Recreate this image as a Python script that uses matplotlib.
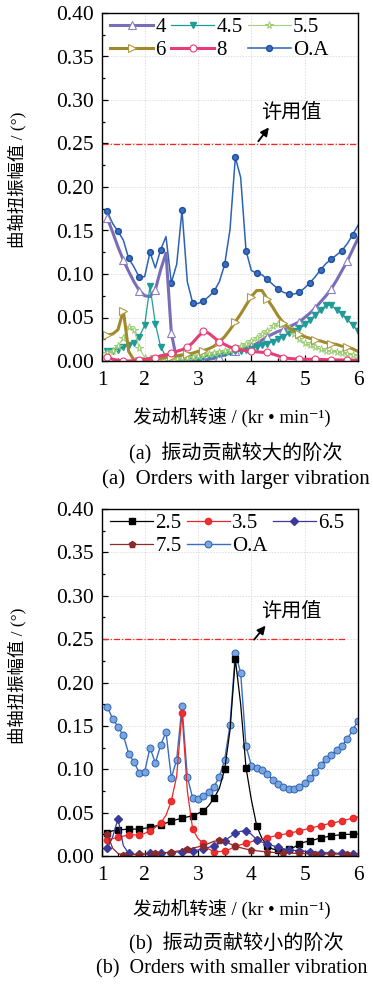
import matplotlib
matplotlib.use("Agg")
import matplotlib.pyplot as plt
from matplotlib.ticker import MultipleLocator, FormatStrFormatter

# ---------------- data ----------------
speed = [1.3, 1.4, 1.5, 1.6, 1.7, 1.8, 1.9, 2.0, 2.1, 2.2,
         2.3, 2.4, 2.5, 2.6, 2.7, 2.8, 2.9, 3.0, 3.1, 3.2,
         3.3, 3.4, 3.5, 3.6, 3.7, 3.8, 3.9, 4.0, 4.1, 4.2,
         4.3, 4.4, 4.5, 4.6, 4.7, 4.8, 4.9, 5.0, 5.1, 5.2,
         5.3, 5.4, 5.5, 5.6, 5.7, 5.8, 5.9, 6.0]

ord4 = [0.164, 0.148, 0.131, 0.116, 0.103, 0.091, 0.081, 0.075, 0.074, 0.082,
        0.105, 0.124, 0.032, 0.002, 0.000, 0.000, 0.000, 0.0005, 0.001, 0.002,
        0.003, 0.005, 0.007, 0.009, 0.011, 0.013, 0.015, 0.017, 0.020, 0.024,
        0.028, 0.031, 0.034, 0.036, 0.039, 0.042, 0.045, 0.050, 0.055, 0.061,
        0.068, 0.075, 0.083, 0.093, 0.104, 0.115, 0.128, 0.141]

ord45 = [0.011, 0.012, 0.013, 0.016, 0.018, 0.021, 0.028, 0.041, 0.086, 0.043,
         0.016, 0.005, 0.002, 0.002, 0.002, 0.003, 0.003, 0.004, 0.005, 0.006,
         0.007, 0.008, 0.009, 0.010, 0.011, 0.012, 0.013, 0.014, 0.016, 0.018,
         0.020, 0.022, 0.025, 0.028, 0.032, 0.035, 0.038, 0.042, 0.047, 0.053,
         0.059, 0.064, 0.064, 0.059, 0.054, 0.048, 0.041, 0.035]

ord55 = [0.009, 0.012, 0.017, 0.027, 0.039, 0.036, 0.015, 0.004, 0.002, 0.002,
         0.002, 0.002, 0.002, 0.002, 0.003, 0.004, 0.005, 0.006, 0.007, 0.008,
         0.009, 0.010, 0.011, 0.013, 0.015, 0.017, 0.020, 0.023, 0.027, 0.031,
         0.035, 0.040, 0.043, 0.042, 0.038, 0.031, 0.025, 0.021, 0.018, 0.016,
         0.014, 0.012, 0.011, 0.010, 0.009, 0.008, 0.007, 0.007]

ord6 = [0.030, 0.031, 0.036, 0.058, 0.011, 0.001, 0.000, 0.000, 0.001, 0.002,
        0.003, 0.004, 0.005, 0.006, 0.007, 0.008, 0.009, 0.011, 0.012, 0.014,
        0.017, 0.022, 0.028, 0.036, 0.045, 0.054, 0.064, 0.074, 0.081, 0.081,
        0.071, 0.062, 0.052, 0.044, 0.038, 0.034, 0.031, 0.028, 0.026, 0.024,
        0.023, 0.021, 0.020, 0.019, 0.017, 0.016, 0.014, 0.011]

ord8 = [0.005, 0.002, 0.001, 0.000, 0.000, 0.0005, 0.001, 0.002, 0.003, 0.004,
        0.006, 0.007, 0.009, 0.011, 0.013, 0.016, 0.021, 0.028, 0.034, 0.032,
        0.027, 0.022, 0.019, 0.016, 0.0145, 0.013, 0.012, 0.011, 0.0105, 0.010,
        0.010, 0.008, 0.006, 0.004, 0.003, 0.0025, 0.0023, 0.002, 0.002, 0.002,
        0.0018, 0.0016, 0.0015, 0.0013, 0.0012, 0.001, 0.001, 0.001]

oa = [0.172, 0.158, 0.149, 0.139, 0.118, 0.108, 0.096, 0.097, 0.125, 0.107,
      0.128, 0.143, 0.090, 0.111, 0.173, 0.091, 0.067, 0.066, 0.069, 0.074,
      0.080, 0.091, 0.111, 0.151, 0.234, 0.211, 0.127, 0.104, 0.101, 0.099,
      0.094, 0.088, 0.083, 0.079, 0.077, 0.077, 0.079, 0.084, 0.090, 0.097,
      0.105, 0.112, 0.117, 0.122, 0.127, 0.135, 0.145, 0.156]

ord25 = [0.027, 0.029, 0.030, 0.0305, 0.031, 0.031, 0.031, 0.032, 0.033, 0.0345,
         0.036, 0.038, 0.040, 0.042, 0.0435, 0.045, 0.0465, 0.049, 0.052, 0.058,
         0.0666, 0.078, 0.100, 0.145, 0.227, 0.175, 0.102, 0.065, 0.035, 0.020,
         0.012, 0.008, 0.007, 0.007, 0.0075, 0.010, 0.014, 0.016, 0.0177, 0.019,
         0.021, 0.022, 0.023, 0.024, 0.0245, 0.025, 0.025, 0.0255]

ord35 = [0.018, 0.020, 0.0216, 0.023, 0.024, 0.0243, 0.0245, 0.026, 0.029, 0.033,
         0.038, 0.047, 0.0635, 0.092, 0.165, 0.075, 0.031, 0.020, 0.0146, 0.008,
         0.005, 0.005, 0.006, 0.008, 0.011, 0.013, 0.0146, 0.0165, 0.0185, 0.020,
         0.021, 0.0225, 0.024, 0.025, 0.026, 0.0275, 0.029, 0.0305, 0.032, 0.0335,
         0.035, 0.0365, 0.0377, 0.039, 0.0407, 0.042, 0.044, 0.045]

ord65 = [0.009, 0.022, 0.043, 0.012, 0.003, 0.002, 0.002, 0.0025, 0.003, 0.003,
         0.0035, 0.004, 0.004, 0.0045, 0.005, 0.0055, 0.006, 0.007, 0.008, 0.010,
         0.012, 0.0145, 0.0177, 0.022, 0.026, 0.0285, 0.029, 0.025, 0.019, 0.016,
         0.0138, 0.012, 0.010, 0.0085, 0.007, 0.0065, 0.006, 0.0055, 0.005, 0.0045,
         0.004, 0.0038, 0.0035, 0.0032, 0.003, 0.0028, 0.0025, 0.0025]

ord75 = [0.025, 0.009, 0.003, 0.001, 0.0012, 0.0015, 0.002, 0.0022, 0.0025, 0.003,
         0.0035, 0.004, 0.0045, 0.0055, 0.0065, 0.0075, 0.009, 0.0105, 0.012, 0.0145,
         0.017, 0.018, 0.017, 0.014, 0.0115, 0.0095, 0.008, 0.0068, 0.006, 0.0053,
         0.0047, 0.0042, 0.0038, 0.0035, 0.0033, 0.0031, 0.003, 0.0028, 0.0027, 0.0026,
         0.0025, 0.0024, 0.0023, 0.0022, 0.0021, 0.002, 0.002, 0.002]

allowable = 0.25
xtick_pos = [1.2, 2, 3, 4, 5, 6]
xtick_labels = ["1", "2", "3", "4", "5", "6"]
ylabel = "曲轴扭振幅值 / (°)"
xlabel = "发动机转速 / (kr • min⁻¹)"
note = "许用值"
cap_a_cn = "(a)  振动贡献较大的阶次"
cap_a_en = "(a)  Orders with larger vibration"
cap_b_cn = "(b)  振动贡献较小的阶次"
cap_b_en = "(b)  Orders with smaller vibration"

# ---------------- style ----------------
FAM = ["Liberation Serif", "Noto Sans CJK SC", "DejaVu Serif"]
plt.rcParams["font.family"] = FAM

W, H = 373, 985
fig = plt.figure(figsize=(W / 100, H / 100), dpi=100)


def px_axes(l, t, r, b):
    return fig.add_axes([l / W, 1 - b / H, (r - l) / W, (b - t) / H])


def style_axes(ax, red_end):
    ax.set_xlim(1.2, 6.0)
    ax.set_ylim(0, 0.40)
    ax.set_xticks(xtick_pos)
    ax.set_xticklabels(xtick_labels)
    ax.xaxis.set_minor_locator(MultipleLocator(0.5))
    ax.yaxis.set_major_locator(MultipleLocator(0.05))
    ax.yaxis.set_minor_locator(MultipleLocator(0.025))
    ax.yaxis.set_major_formatter(FormatStrFormatter("%.2f"))
    ax.tick_params(which="both", direction="in", labelsize=15.5, width=0.9)
    ax.tick_params(which="major", length=4.5)
    ax.tick_params(which="minor", length=2.5)
    ax.tick_params(axis="x", pad=7)
    ax.tick_params(axis="y", pad=6)
    ax.grid(True, which="major", color="#dedede", linestyle=(0, (1.5, 1.5)), linewidth=0.7)
    ax.set_axisbelow(True)
    for s in ax.spines.values():
        s.set_linewidth(1.0)
    ax.hlines(allowable, 1.2, red_end, colors="#ff2020", linestyles=(0, (5, 1.5, 1, 1.5)),
              linewidth=0.9, zorder=1)


LEG = dict(ncol=3, frameon=False, loc="upper left", bbox_to_anchor=(0.0, 1.01),
           fontsize=15, handlelength=2.05, handletextpad=0.12, columnspacing=0.25,
           labelspacing=0.15, borderaxespad=0.2, borderpad=0.2)

# ---------------- top panel ----------------
ax1 = px_axes(102, 13, 358, 361)
style_axes(ax1, 6.0)
h_oa = ax1.plot(speed, oa, color="#2d63b5", lw=1.1, marker="o", ms=4.2,
                mfc="#3a6fc0", mec="#1f4f9c", markevery=2, label="O.A")[0]
h4 = ax1.plot(speed, ord4, color="#7a6db8", lw=2.2, marker="^", ms=5.5,
              mfc="white", mec="#8a80c0", mew=0.8, markevery=3, label="4")[0]
h45 = ax1.plot(speed, ord45, color="#1f9c98", lw=0.9, marker="v", ms=4.5,
               mfc="#1f9c98", mec="#1f9c98", label="4.5")[0]
h55 = ax1.plot(speed, ord55, color="#a6d07e", lw=0.8, marker="*", ms=5.5,
               mfc="white", mec="#9ccc70", mew=0.7, label="5.5")[0]
h6 = ax1.plot(speed, ord6, color="#a08a2c", lw=2.2, marker=">", ms=5.5,
              mfc="white", mec="#b09a40", mew=0.8, markevery=3, label="6")[0]
h8 = ax1.plot(speed, ord8, color="#e83c78", lw=2.2, marker="o", ms=5,
              mfc="white", mec="#e83c78", mew=0.8, markevery=3, label="8")[0]
ax1.legend(handles=[h4, h6, h45, h8, h55, h_oa], **LEG)
ax1.annotate("", xy=(4.36, 0.271), xytext=(4.1, 0.25),
             arrowprops=dict(arrowstyle="-|>", color="black", lw=1.3, mutation_scale=12))
ax1.text(4.75, 0.284, note, fontsize=14.5, ha="center", va="center")

# ---------------- bottom panel ----------------
ax2 = px_axes(102, 509, 358, 856)
style_axes(ax2, 5.78)
g_oa = ax2.plot(speed, oa, color="#3a6ec0", lw=1.0, marker="o", ms=5,
                mfc="#79a6de", mec="#2e62b2", mew=0.7, label="O.A")[0]
g25 = ax2.plot(speed, ord25, color="black", lw=0.9, marker="s", ms=4,
               mfc="black", mec="black", markevery=2, label="2.5")[0]
g35 = ax2.plot(speed, ord35, color="#e82828", lw=0.9, marker="o", ms=4.5,
               mfc="#ee3030", mec="#e82828", markevery=2, label="3.5")[0]
g65 = ax2.plot(speed, ord65, color="#3a3a9c", lw=0.9, marker="D", ms=3.8,
               mfc="#3a3a9c", mec="#3a3a9c", markevery=2, label="6.5")[0]
g75 = ax2.plot(speed, ord75, color="#8c2a2a", lw=0.9, marker="p", ms=5,
               mfc="#8c2a2a", mec="#8c2a2a", markevery=3, label="7.5")[0]
ax2.legend(handles=[g25, g75, g35, g_oa, g65], **LEG)
ax2.annotate("", xy=(4.3, 0.268), xytext=(4.02, 0.247),
             arrowprops=dict(arrowstyle="-|>", color="black", lw=1.3, mutation_scale=12))
ax2.text(4.75, 0.281, note, fontsize=14.5, ha="center", va="center")

# ---------------- labels & captions ----------------
for cy in (180, 676):
    fig.text(17 / W, 1 - cy / H, ylabel, fontsize=12.5,
             rotation=90, ha="center", va="center")


def ftext(x, y, s, size):
    fig.text(x / W, 1 - y / H, s, fontsize=size, ha="center", va="center")


ftext(232, 417, xlabel, 13.5)
ftext(236, 453, cap_a_cn, 14.5)
ftext(236, 479, cap_a_en, 15)
ftext(232, 909, xlabel, 13.5)
ftext(236, 943, cap_b_cn, 14.5)
ftext(232, 969, cap_b_en, 14.5)

fig.savefig("out.png", dpi=100)
